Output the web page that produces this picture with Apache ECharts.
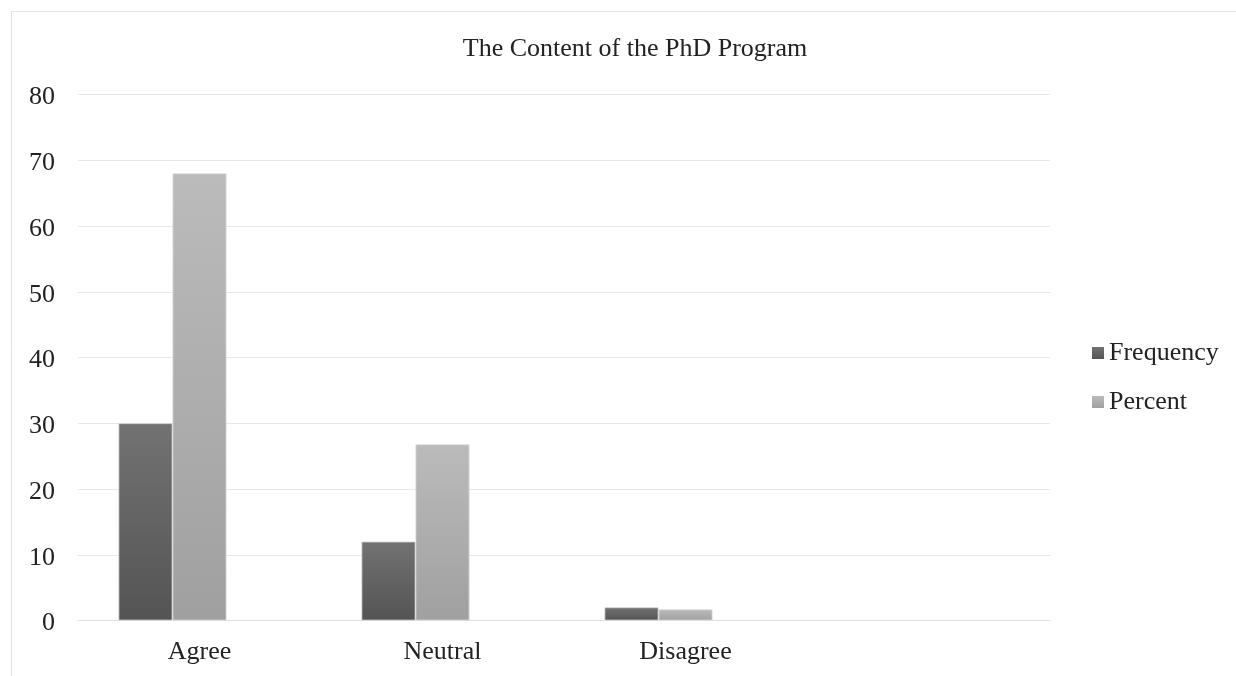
<!DOCTYPE html>
<html>
<head>
<meta charset="utf-8">
<style>
  html, body { margin: 0; padding: 0; background: #ffffff; }
  #chart { width: 1236px; height: 676px; }
</style>
<script src="https://cdn.jsdelivr.net/npm/echarts@6/dist/echarts.min.js"></script>
</head>
<body>
<div id="chart"></div>
<script>
// Survey responses about the PhD programme content
const categories = ['Agree', 'Neutral', 'Disagree', ''];
const frequency = [30, 12, 2, null];
const percent = [68, 26.8, 1.7, null];
// third slot of each group is left empty
const reserved = [null, null, null, null];
const yTicks = { min: 0, max: 80, interval: 10 };

const FONT = '"Liberation Serif", "Times New Roman", serif';

function shade(top, bottom) {
  return new echarts.graphic.LinearGradient(0, 0, 0, 1, [
    { offset: 0, color: top },
    { offset: 1, color: bottom }
  ]);
}

const chart = echarts.init(document.getElementById('chart'), null, { renderer: 'canvas' });

chart.setOption({
  backgroundColor: '#ffffff',
  animation: false,
  graphic: [{
    type: 'rect',
    silent: true,
    shape: { x: 11.5, y: 11.5, width: 1400, height: 800 },
    style: { fill: 'none', stroke: '#dde3ea', lineWidth: 1 }
  }],
  title: {
    text: 'The Content of the PhD Program',
    left: 630,
    top: 31,
    textAlign: 'center',
    textStyle: { fontFamily: FONT, fontSize: 26, fontWeight: 'normal', color: '#222222' }
  },
  legend: {
    orient: 'vertical',
    left: 1092,
    top: 340,
    padding: 0,
    itemWidth: 12,
    itemHeight: 12,
    itemGap: 23,
    icon: 'rect',
    itemStyle: { borderWidth: 0 },
    data: ['Frequency', 'Percent'],
    textStyle: { fontFamily: FONT, fontSize: 26, color: '#222222' }
  },
  grid: { left: 78, right: 186, top: 94.5, bottom: 55.5, containLabel: false },
  xAxis: {
    type: 'category',
    data: categories,
    axisTick: { show: false },
    axisLine: { show: true, lineStyle: { color: '#dcdfe6', width: 1 } },
    axisLabel: { fontFamily: FONT, fontSize: 26, color: '#222222', margin: 19 }
  },
  yAxis: {
    type: 'value',
    min: yTicks.min,
    max: yTicks.max,
    interval: yTicks.interval,
    axisLine: { show: false },
    axisTick: { show: false },
    splitLine: { lineStyle: { color: '#e6e8ee', width: 1 } },
    axisLabel: {
      fontFamily: FONT, fontSize: 26, color: '#222222', margin: 23,
      verticalAlign: 'top', lineHeight: 6
    }
  },
  series: [
    {
      name: 'Frequency',
      type: 'bar',
      data: frequency,
      barWidth: 54,
      barGap: '0%',
      itemStyle: { color: shade('#727272', '#545454'), borderColor: '#d4d4d4', borderWidth: 0.8 }
    },
    {
      name: 'Percent',
      type: 'bar',
      data: percent,
      barWidth: 54,
      barGap: '0%',
      itemStyle: { color: shade('#bbbbbb', '#a0a0a0'), borderColor: '#dcdcdc', borderWidth: 0.8 }
    },
    {
      name: 'reserved',
      type: 'bar',
      data: reserved,
      barWidth: 54,
      barGap: '0%',
      itemStyle: { color: 'transparent' }
    }
  ]
});
</script>
</body>
</html>
